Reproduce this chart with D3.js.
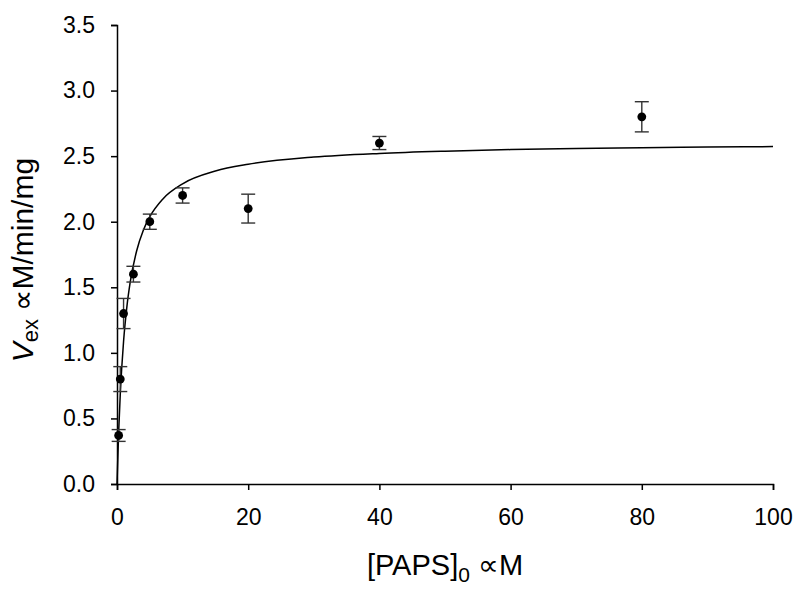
<!DOCTYPE html>
<html lang="en">
<head>
    <meta charset="UTF-8">
    <title>PAPS kinetics</title>
    <script src="https://d3js.org/d3.v7.min.js"></script>
    <style>
        body {
            margin: 0;
            background-color: #fff;
        }
        svg {
            display: block;
            font-family: "Liberation Sans", Arial, sans-serif;
        }
        .axis path, .axis line {
            stroke: #000;
            stroke-width: 1.5;
        }
        .axis text {
            font-size: 23px;
            fill: #000;
        }
        .fit {
            fill: none;
            stroke: #000;
            stroke-width: 1.5;
        }
        .err {
            stroke: #333;
            stroke-width: 1.4;
        }
    </style>
</head>
<body>

<svg id="chart"></svg>

<script>
    // measured points: [PAPS]0 (µM) vs Vex, with error bars
    const paps = [0.25, 0.5, 1, 2.5, 5, 10, 20, 40, 80];
    const vex = [0.37, 0.80, 1.30, 1.60, 2.00, 2.20, 2.10, 2.60, 2.80];
    const vexErr = [0.045, 0.095, 0.115, 0.06, 0.058, 0.058, 0.11, 0.05, 0.115];

    // fitted curve
    const fitX = [0, 0.25, 0.5, 1, 1.5, 2, 3, 4, 5, 7, 10, 15, 20, 30, 40, 50, 60, 70, 80, 90, 100];
    const fitY = [0, 0.395, 0.687, 1.087, 1.349, 1.535, 1.779, 1.933, 2.038, 2.174, 2.289, 2.386,
                  2.438, 2.493, 2.521, 2.538, 2.550, 2.558, 2.564, 2.569, 2.573];

    const xTicks = [0, 20, 40, 60, 80, 100];
    const yTicks = [0, 0.5, 1, 1.5, 2, 2.5, 3, 3.5];

    const width = 800, height = 596;
    const margin = { top: 25, right: 27, bottom: 112, left: 117 };

    const svg = d3.select("#chart")
        .attr("width", width)
        .attr("height", height);

    const x = d3.scaleLinear().domain([0, 100]).range([margin.left, width - margin.right]);
    const y = d3.scaleLinear().domain([0, 3.5]).range([height - margin.bottom, margin.top]);

    svg.append("g")
        .attr("class", "axis")
        .attr("transform", `translate(0,${height - margin.bottom})`)
        .call(d3.axisBottom(x).tickValues(xTicks).tickSizeOuter(0).tickSize(6).tickPadding(19)
            .tickFormat(d3.format("d")));

    svg.append("g")
        .attr("class", "axis")
        .attr("transform", `translate(${margin.left},0)`)
        .call(d3.axisLeft(y).tickValues(yTicks).tickSizeOuter(0).tickSize(6).tickPadding(16)
            .tickFormat(d3.format(".1f")));

    // fit line
    const fitData = fitX.map((d, i) => [d, fitY[i]]);
    svg.append("path")
        .attr("class", "fit")
        .attr("d", d3.line().x(d => x(d[0])).y(d => y(d[1])).curve(d3.curveMonotoneX)(fitData));

    // error bars
    const pts = paps.map((d, i) => ({ x: d, y: vex[i], e: vexErr[i] }));
    const cap = 7;
    const eb = svg.append("g").attr("class", "err");
    eb.selectAll(".v").data(pts).enter().append("line")
        .attr("x1", d => x(d.x)).attr("x2", d => x(d.x))
        .attr("y1", d => y(d.y - d.e)).attr("y2", d => y(d.y + d.e));
    eb.selectAll(".t").data(pts).enter().append("line")
        .attr("x1", d => x(d.x) - cap).attr("x2", d => x(d.x) + cap)
        .attr("y1", d => y(d.y + d.e)).attr("y2", d => y(d.y + d.e));
    eb.selectAll(".b").data(pts).enter().append("line")
        .attr("x1", d => x(d.x) - cap).attr("x2", d => x(d.x) + cap)
        .attr("y1", d => y(d.y - d.e)).attr("y2", d => y(d.y - d.e));

    svg.append("g").selectAll("circle")
        .data(pts)
        .enter().append("circle")
        .attr("cx", d => x(d.x))
        .attr("cy", d => y(d.y))
        .attr("r", 4.4)
        .attr("fill", "#000");

    // x label
    const xl = svg.append("text")
        .attr("x", 445)
        .attr("y", 575)
        .attr("text-anchor", "middle")
        .attr("font-size", 29)
        .attr("fill", "#000");
    xl.append("tspan").text("[PAPS]");
    xl.append("tspan").attr("font-size", 21).attr("dy", 7).text("0");
    xl.append("tspan").attr("dy", -7).text(" \u221DM");

    // y label
    const yl = svg.append("text")
        .attr("transform", "translate(33,260) rotate(-90)")
        .attr("text-anchor", "middle")
        .attr("font-size", 30)
        .attr("fill", "#000");
    yl.append("tspan").attr("font-style", "italic").text("V");
    yl.append("tspan").attr("font-size", 22).attr("dy", 5).text("ex");
    yl.append("tspan").attr("dy", -5).text(" \u221DM/min/mg");
</script>

</body>
</html>
